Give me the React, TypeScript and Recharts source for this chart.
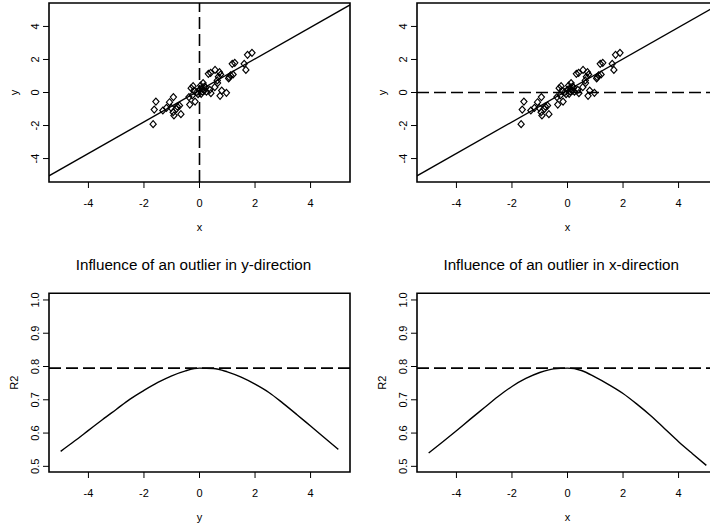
import React from 'react';
import { ScatterChart, Scatter, LineChart, Line, XAxis, YAxis, ReferenceLine, ReferenceArea } from 'recharts';

// sample points (same data in both upper panels)
const sampleX = [-1.57, -1.63, -1.67, -1.32, -1.19, -1.08, -0.94, -1.02, -0.95, -0.92, -0.83, -0.72, -0.67, -0.8, -0.35, -0.16, -0.3, -0.23, -0.26, -0.38, -0.2, 0.0, 0.04, 0.06, 0.13, 0.17, 0.18, 0.22, 0.37, 0.41, 0.32, 0.4, 0.56, 0.55, 0.64, 0.72, 0.76, 0.74, 0.8, 0.97, 1.07, 1.12, 1.21, 1.18, 1.27, 1.61, 1.67, 1.73, 1.89, 0.65, 0.68, 0.1, 0.08, -0.1, 0.25, 1.05, -0.05];
const sampleY = [-0.55, -1.03, -1.92, -1.09, -0.93, -0.59, -0.28, -0.93, -1.19, -1.39, -0.99, -0.79, -1.31, -0.85, -0.73, -0.55, 0.26, 0.38, -0.18, -0.28, 0.12, 0.16, 0.42, -0.08, 0.57, 0.12, 0.36, 0.3, 0.16, -0.04, 1.13, 1.19, 1.37, 0.32, 0.73, 1.23, 1.09, -0.2, 0.12, -0.02, 0.93, 1.03, 1.09, 1.74, 1.8, 1.74, 1.37, 2.28, 2.4, 0.57, 0.95, 0.05, 0.25, 0.02, 0.05, 0.85, -0.1];
const fitIntercept = 0.13;
const fitSlope = 0.955;

// R2 as the outlier moves
const outlierPos = [-5, -4.5, -4, -3.5, -3, -2.5, -2, -1.5, -1, -0.5, 0, 0.5, 1, 1.5, 2, 2.5, 3, 3.5, 4, 4.5, 5];
const r2OutlierY = [0.545, 0.576, 0.608, 0.64, 0.671, 0.702, 0.728, 0.752, 0.772, 0.787, 0.795, 0.794, 0.784, 0.768, 0.747, 0.722, 0.69, 0.656, 0.621, 0.586, 0.551];
const r2OutlierX = [0.54, 0.573, 0.607, 0.642, 0.676, 0.71, 0.74, 0.764, 0.782, 0.793, 0.795, 0.788, 0.768, 0.745, 0.719, 0.687, 0.652, 0.613, 0.574, 0.538, 0.503];
const r2Base = 0.795;

const xyTicks = [-4, -2, 0, 2, 4];
const r2Ticks = [0.5, 0.6, 0.7, 0.8, 0.9, 1.0];
const xyDomain: [number, number] = [-5.42, 5.42];
const r2Domain: [number, number] = [0.483, 1.02];

const points = sampleX.map((x, i) => ({ x, y: sampleY[i] }));
const curveY = outlierPos.map((p, i) => ({ pos: p, r2: r2OutlierY[i] }));
const curveX = outlierPos.map((p, i) => ({ pos: p, r2: r2OutlierX[i] }));

const FONT = '"Liberation Sans", Arial, Helvetica, sans-serif';
const TICK_FS = 11;
const ink = '#000';

const XTick = (p: any) => (
  <text x={p.x} y={p.y + 15} textAnchor="middle" dominantBaseline="central" fontSize={TICK_FS} fill={ink} fontFamily={FONT}>
    {p.payload.value}
  </text>
);

const YTick = (fmt: (v: number) => string) => (p: any) => (
  <text transform={`translate(${p.x - 8},${p.y}) rotate(-90)`} textAnchor="middle" dominantBaseline="central" fontSize={TICK_FS} fill={ink} fontFamily={FONT}>
    {fmt(p.payload.value)}
  </text>
);

const xLabel = (text: string) => (p: any) => {
  const vb = p.viewBox || {};
  return (
    <text x={vb.x + vb.width / 2} y={vb.y + 45} textAnchor="middle" dominantBaseline="central" fontSize={TICK_FS} fill={ink} fontFamily={FONT}>
      {text}
    </text>
  );
};

const yLabel = (text: string) => (p: any) => {
  const vb = p.viewBox || {};
  return (
    <text transform={`translate(${vb.x + vb.width - 35.5},${vb.y + vb.height / 2}) rotate(-90)`} textAnchor="middle" dominantBaseline="central" fontSize={TICK_FS} fill={ink} fontFamily={FONT}>
      {text}
    </text>
  );
};

const Diamond = (p: any) => {
  const { cx, cy } = p;
  return <polygon points={`${cx},${cy - 3.5} ${cx + 3.1},${cy} ${cx},${cy + 3.5} ${cx - 3.1},${cy}`} fill="none" stroke={ink} strokeWidth={1.15} />;
};

function ScatterPanel({ left, dashed }: { left: number; dashed: 'x' | 'y' }) {
  return (
    <div style={{ position: 'absolute', left, top: 0 }}>
      <ScatterChart width={360} height={250} margin={{ top: 3, right: 10, left: 0, bottom: 8 }}>
        <XAxis type="number" dataKey="x" domain={xyDomain} ticks={xyTicks} allowDataOverflow height={60}
          axisLine={false} tickLine={{ stroke: ink }} tickSize={6} tickMargin={0} tick={XTick} label={xLabel('x')} />
        <YAxis type="number" dataKey="y" domain={xyDomain} ticks={xyTicks} allowDataOverflow width={49}
          axisLine={false} tickLine={{ stroke: ink }} tickSize={6} tickMargin={0} tick={YTick((v) => String(v))} label={yLabel('y')} />
        <ReferenceLine segment={[{ x: xyDomain[0], y: fitIntercept + fitSlope * xyDomain[0] }, { x: xyDomain[1], y: fitIntercept + fitSlope * xyDomain[1] }]}
          stroke={ink} strokeWidth={1.3} ifOverflow="hidden" />
        {dashed === 'x'
          ? <ReferenceLine x={0} stroke={ink} strokeWidth={1.6} strokeDasharray="12 5" />
          : <ReferenceLine y={0} stroke={ink} strokeWidth={1.6} strokeDasharray="12 5" />}
        <Scatter data={points} shape={Diamond} isAnimationActive={false} />
        <ReferenceArea x1={xyDomain[0]} x2={xyDomain[1]} y1={xyDomain[0]} y2={xyDomain[1]} fill="none" fillOpacity={0} stroke={ink} strokeWidth={1.6} />
      </ScatterChart>
    </div>
  );
}

function CurvePanel({ left, data, title, xName }: { left: number; data: any[]; title: string; xName: string }) {
  return (
    <div style={{ position: 'absolute', left, top: 250 }}>
      <div style={{ position: 'absolute', left: 49, width: 301, top: 6, textAlign: 'center', fontSize: 15.2, fontFamily: FONT, color: ink, lineHeight: '18px', whiteSpace: 'nowrap' }}>
        <span style={{ position: 'relative', left: -6 }}>{title}</span>
      </div>
      <LineChart width={360} height={279} data={data} margin={{ top: 43.3, right: 10, left: 0, bottom: 0 }}>
        <XAxis type="number" dataKey="pos" domain={xyDomain} ticks={xyTicks} allowDataOverflow height={57}
          axisLine={false} tickLine={{ stroke: ink }} tickSize={6} tickMargin={0} tick={XTick} label={xLabel(xName)} />
        <YAxis type="number" domain={r2Domain} ticks={r2Ticks} allowDataOverflow width={49}
          axisLine={false} tickLine={{ stroke: ink }} tickSize={6} tickMargin={0} tick={YTick((v) => v.toFixed(1))} label={yLabel('R2')} />
        <ReferenceLine y={r2Base} stroke={ink} strokeWidth={1.6} strokeDasharray="12 5" />
        <Line type="monotone" dataKey="r2" stroke={ink} strokeWidth={1.4} dot={false} isAnimationActive={false} />
        <ReferenceArea x1={xyDomain[0]} x2={xyDomain[1]} y1={r2Domain[0]} y2={r2Domain[1]} fill="none" fillOpacity={0} stroke={ink} strokeWidth={1.6} />
      </LineChart>
    </div>
  );
}

export default function App() {
  return (
    <div style={{ position: 'absolute', left: 0, top: 0, width: 710, height: 529, overflow: 'hidden', background: '#fff', fontFamily: FONT }}>
      <ScatterPanel left={0} dashed="x" />
      <ScatterPanel left={367.7} dashed="y" />
      <CurvePanel left={0} data={curveY} title="Influence of an outlier in y-direction" xName="y" />
      <CurvePanel left={367.7} data={curveX} title="Influence of an outlier in x-direction" xName="x" />
    </div>
  );
}
